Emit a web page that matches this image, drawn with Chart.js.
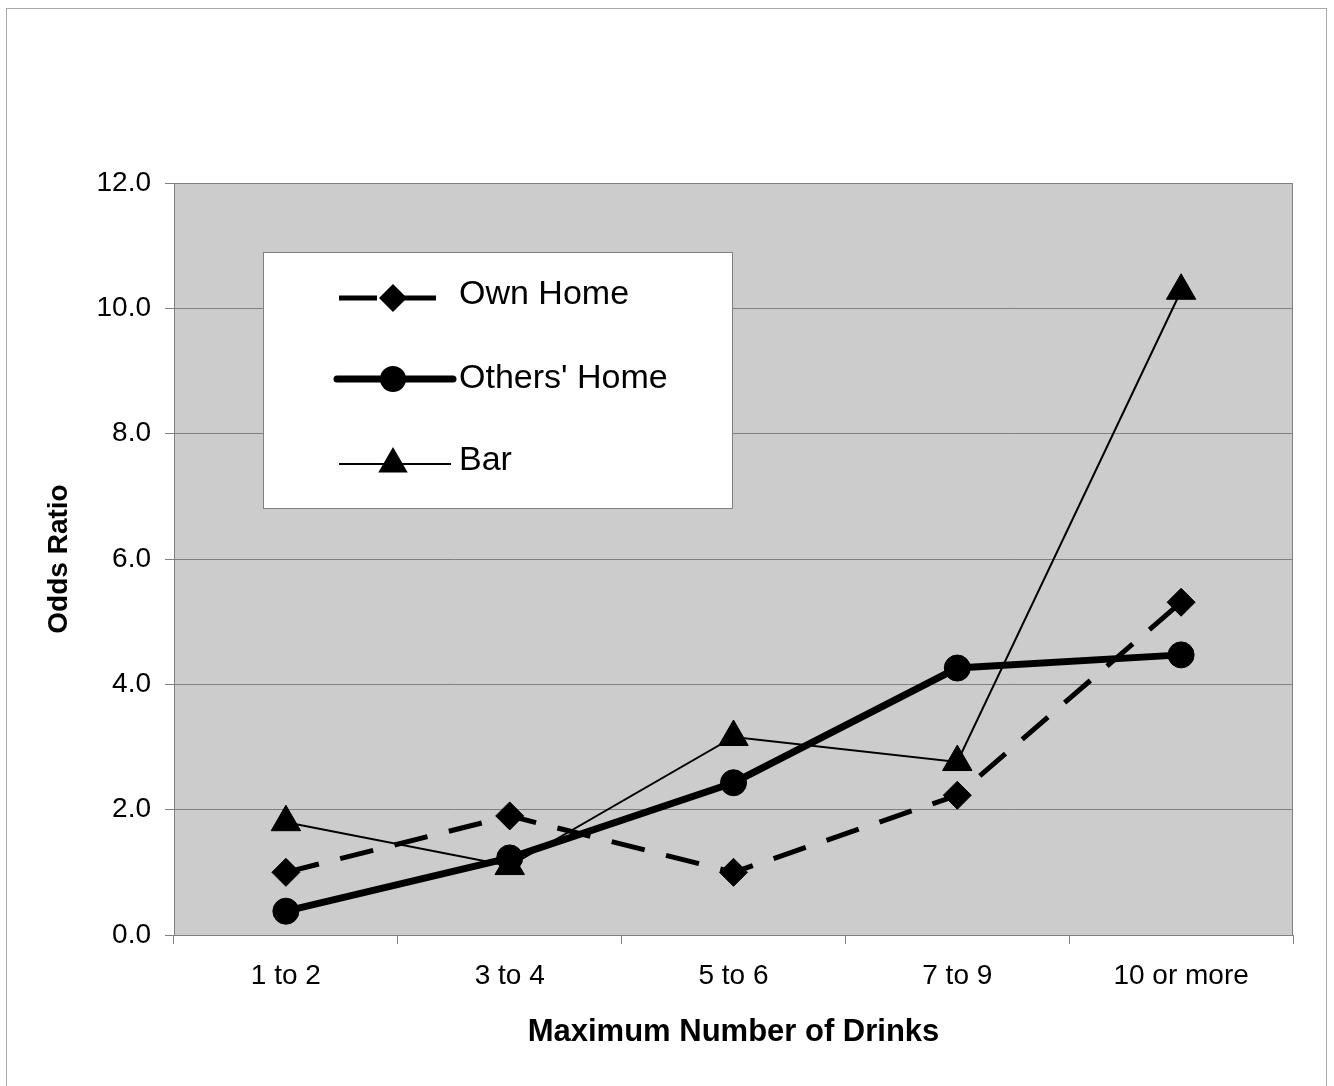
<!DOCTYPE html>
<html>
<head>
<meta charset="utf-8">
<title>Odds Ratio by Maximum Number of Drinks</title>
<script src="https://cdn.jsdelivr.net/npm/chart.js"></script>
<style>
  body { margin: 0; background: #fff; }
  #wrap { position: relative; width: 1334px; height: 1086px; }
  #frame { position: absolute; left: 6px; top: 8px; width: 1321px; height: 1100px; border: 1px solid #a8a8a8; box-sizing: border-box; pointer-events: none; }
</style>
</head>
<body>
<div id="wrap">
  <canvas id="myChart" width="1334" height="1086"></canvas>
  <div id="frame"></div>
</div>
<script>
const categories = ['1 to 2', '3 to 4', '5 to 6', '7 to 9', '10 or more']
const ownHome = [1.0, 1.9, 1.0, 2.23, 5.31]
const othersHome = [0.38, 1.23, 2.43, 4.26, 4.47]
const bar = [1.8, 1.1, 3.16, 2.76, 10.28]
const seriesNames = ['Own Home', "Others' Home", 'Bar']
const yTicks = [0, 2, 4, 6, 8, 10, 12]

const FONT = '"Liberation Sans", Arial, sans-serif'
const GREY = '#808080'

// marker shapes drawn the same way chart.js does, for the legend box
function marker(ctx, style, x, y, r) {
  ctx.beginPath()
  if (style === 'circle') {
    ctx.arc(x, y, r, 0, Math.PI * 2)
  } else if (style === 'rectRot') {
    ctx.moveTo(x - r, y)
    ctx.lineTo(x, y - r)
    ctx.lineTo(x + r, y)
    ctx.lineTo(x, y + r)
  } else if (style === 'triangle') {
    let a = 0
    ctx.moveTo(x + Math.sin(a) * r, y - Math.cos(a) * r)
    a += Math.PI * 2 / 3
    ctx.lineTo(x + Math.sin(a) * r, y - Math.cos(a) * r)
    a += Math.PI * 2 / 3
    ctx.lineTo(x + Math.sin(a) * r, y - Math.cos(a) * r)
  }
  ctx.closePath()
  ctx.fillStyle = '#000'
  ctx.fill()
}

const plotBg = {
  id: 'plotBg',
  beforeDraw(chart) {
    const {ctx, chartArea: a} = chart
    ctx.save()
    ctx.fillStyle = '#cccccc'
    ctx.fillRect(a.left, a.top, a.right - a.left, a.bottom - a.top)
    ctx.strokeStyle = GREY
    ctx.lineWidth = 1
    ctx.strokeRect(a.left + 0.5, a.top + 0.5, a.right - a.left - 1, a.bottom - a.top)
    ctx.restore()
  }
}

const legendBox = {
  id: 'legendBox',
  afterDraw(chart) {
    const ctx = chart.ctx
    ctx.save()
    ctx.fillStyle = '#fff'
    ctx.fillRect(263, 252, 469, 256)
    ctx.strokeStyle = GREY
    ctx.lineWidth = 1
    ctx.strokeRect(263.5, 252.5, 469, 256)
    // line pieces left and right of the marker
    const rows = [
      {y: 298, segs: [[339, 377], [400, 436]], ty: 295},
      {y: 379, segs: [[337, 453]], ty: 379},
      {y: 464, segs: [[339, 451]], ty: 461}
    ]
    chart.data.datasets.forEach((ds, i) => {
      const row = rows[i]
      ctx.save()
      ctx.strokeStyle = '#000'
      ctx.lineWidth = ds.borderWidth
      ctx.lineCap = i === 1 ? 'round' : 'butt'
      row.segs.forEach(s => {
        ctx.beginPath()
        ctx.moveTo(s[0], row.y)
        ctx.lineTo(s[1], row.y)
        ctx.stroke()
      })
      ctx.restore()
      marker(ctx, ds.pointStyle, 393, row.y, ds.pointRadius)
      ctx.fillStyle = '#000'
      ctx.font = '34px ' + FONT
      ctx.textBaseline = 'middle'
      ctx.textAlign = 'left'
      ctx.fillText(ds.label, 459, row.ty)
    })
    ctx.restore()
  }
}

new Chart(document.getElementById('myChart'), {
  type: 'line',
  data: {
    labels: categories,
    datasets: [{
      label: seriesNames[0],
      data: ownHome,
      borderColor: '#000',
      borderWidth: 5,
      borderDash: [34, 22],
      pointStyle: 'rectRot',
      pointRadius: 14,
      pointBackgroundColor: '#000',
      pointBorderColor: '#000',
      pointBorderWidth: 1,
      tension: 0
    }, {
      label: seriesNames[1],
      data: othersHome,
      borderColor: '#000',
      borderWidth: 7,
      pointStyle: 'circle',
      pointRadius: 13,
      pointBackgroundColor: '#000',
      pointBorderColor: '#000',
      pointBorderWidth: 1,
      tension: 0
    }, {
      label: seriesNames[2],
      data: bar,
      borderColor: '#000',
      borderWidth: 2,
      pointStyle: 'triangle',
      pointRadius: 17,
      pointBackgroundColor: '#000',
      pointBorderColor: '#000',
      pointBorderWidth: 1,
      tension: 0
    }]
  },
  options: {
    responsive: false,
    animation: false,
    devicePixelRatio: 1,
    layout: { padding: { left: 0, top: 183, right: 41, bottom: 0 } },
    plugins: {
      legend: { display: false },
      tooltip: { enabled: false }
    },
    scales: {
      x: {
        type: 'category',
        offset: true,
        afterFit: s => { s.height = 151 },
        grid: { offset: true, drawOnChartArea: false, drawTicks: true, tickLength: 9, color: GREY },
        border: { display: true, color: GREY },
        ticks: { color: '#000', padding: 15, maxRotation: 0, font: { family: FONT, size: 28 } },
        title: {
          display: true,
          text: 'Maximum Number of Drinks',
          color: '#000',
          padding: { top: 0, bottom: 35 },
          font: { family: FONT, size: 31, weight: 'bold' }
        }
      },
      y: {
        min: 0,
        max: 12,
        afterFit: s => { s.width = 174 },
        afterBuildTicks: s => { s.ticks = yTicks.map(v => ({ value: v })) },
        grid: { color: GREY, tickLength: 9, drawTicks: true },
        border: { display: true, color: GREY },
        ticks: {
          color: '#000',
          padding: 14,
          font: { family: FONT, size: 28 },
          callback: v => v.toFixed(1)
        },
        title: {
          display: true,
          text: 'Odds Ratio',
          color: '#000',
          padding: { top: 42, bottom: 0 },
          font: { family: FONT, size: 28, weight: 'bold' }
        }
      }
    }
  },
  plugins: [plotBg, legendBox]
})
</script>
</body>
</html>
